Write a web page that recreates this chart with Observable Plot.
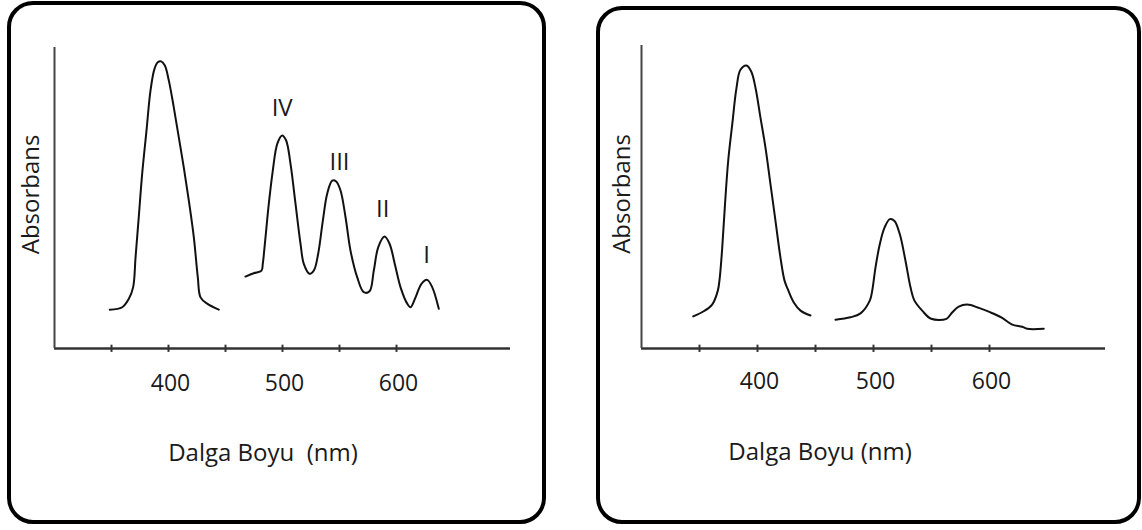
<!DOCTYPE html>
<html>
<head>
<meta charset="utf-8">
<script src="https://cdn.jsdelivr.net/npm/d3@7"></script>
<script src="https://cdn.jsdelivr.net/npm/@observablehq/plot@0.6"></script>
<style>
  html, body { margin: 0; padding: 0; background: #fff; width: 1142px; height: 530px; overflow: hidden; }
  .panel { position: absolute; box-sizing: border-box; border: 4.5px solid #000; border-radius: 26px; }
  .chart { position: absolute; top: 0; }
</style>
</head>
<body>
<div class="panel" style="left:7px;top:1px;width:539px;height:523px"></div>
<div class="panel" style="left:596px;top:6px;width:545px;height:518px"></div>
<div id="left" class="chart" style="left:0px"></div>
<div id="right" class="chart" style="left:571px"></div>
<script>
// ---------- data (wavelength in nm, absorbance in arbitrary units 0-100) ----------
const tickValues = [350, 400, 450, 500, 550, 600];
const tickLabels = [400, 500, 600];
const xTitleLeft = "Dalga Boyu\u00A0 (nm)";
const xTitleRight = "Dalga Boyu (nm)";
const yTitle = "Absorbans";

// Left panel, band near 390 nm
const leftBandANm  = [348.5, 359.4, 365.2, 369.0, 371.1, 373.9, 376.9, 380.7, 384.2, 387.7, 390.6, 393.6, 396.8, 400.3, 404.6, 409.0, 413.4, 417.8, 422.2, 425.7, 428.1, 433.9, 444.1];
const leftBandAAbs = [12.9, 13.7, 16.5, 20.4, 30.3, 43.6, 58.0, 72.4, 85.7, 92.9, 95.1, 95.4, 94.0, 89.0, 80.2, 70.2, 60.2, 49.2, 37.0, 23.7, 17.0, 14.9, 12.9];

// Left panel, vibronic bands I-IV
const leftBandBNm  = [467.5, 474.8, 481.6, 482.7, 485.1, 488.0, 491.5, 495.4, 499.7, 503.2, 507.0, 511.4, 515.8, 518.7, 523.7, 527.5, 531.3, 535.4, 539.2, 543.6, 547.1, 550.9, 555.3, 559.6, 565.5, 571.3, 576.3, 580.1, 584.0, 589.5, 593.9, 598.5, 603.5, 609.4, 612.3, 616.7, 621.9, 626.9, 631.3, 637.1];
const leftBandBAbs = [23.9, 25.0, 25.9, 28.1, 37.0, 48.1, 59.1, 68.0, 70.8, 69.1, 61.4, 48.1, 34.8, 28.1, 24.8, 25.9, 31.5, 42.5, 51.4, 55.8, 55.5, 52.5, 43.6, 32.6, 23.7, 18.7, 19.0, 25.9, 33.7, 37.2, 34.8, 28.1, 20.4, 14.9, 13.7, 17.0, 21.5, 22.8, 20.4, 13.2];

// Peak labels (left panel)
const peakNames  = ["IV", "III", "II", "I"];
const peakLabelNm  = [499.7, 550.0, 588.0, 626.3];
const peakLabelAbs = [79.7, 61.9, 46.1, 30.9];

// Right panel, band near 390 nm
const rightBandANm  = [344.6, 353.7, 360.9, 365.8, 367.5, 369.6, 371.8, 374.7, 378.2, 381.9, 385.3, 390.5, 394.6, 398.3, 402.6, 406.9, 411.2, 415.5, 419.8, 423.3, 426.1, 431.3, 437.1, 445.7];
const rightBandAAbs = [10.6, 12.3, 14.5, 19.1, 23.5, 33.3, 46.5, 61.8, 73.9, 86.0, 92.0, 93.4, 91.4, 86.0, 76.1, 66.2, 54.2, 42.1, 30.0, 22.4, 19.6, 15.2, 12.5, 10.9];

// Right panel, band near 515 nm with shoulder
const rightBandBNm  = [467.2, 480.2, 488.8, 496.8, 498.9, 501.7, 505.4, 509.5, 514.1, 518.1, 522.7, 527.6, 531.9, 535.3, 542.0, 549.7, 562.9, 567.8, 573.5, 580.8, 590.8, 600.9, 610.9, 619.6, 628.2, 632.5, 646.8];
const rightBandBAbs = [9.5, 10.3, 11.6, 15.8, 19.1, 26.7, 34.4, 39.9, 42.7, 42.1, 37.7, 28.9, 20.2, 15.8, 12.5, 9.8, 9.8, 11.9, 13.8, 14.5, 13.4, 11.9, 10.1, 7.9, 7.2, 6.5, 6.5];

// ---------- helpers ----------
const toRows = (xs, ys) => xs.map((x, i) => ({nm: x, abs: ys[i]}));
const FONT = '"Open Sans", "Segoe UI", sans-serif';
const INK = "#1a1a1a";

function panel(opts) {
  const marks = [
    // axes
    Plot.ruleY([0], {x1: 300, x2: 700, stroke: "#333", strokeWidth: 2.4}),
    Plot.ruleX([300], {y1: 0, y2: 100, stroke: "#444", strokeWidth: 2}),
    Plot.ruleX(tickValues, {y1: -1.3, y2: 1.1, stroke: "#333", strokeWidth: 2}),
    Plot.text(tickLabels, {x: d => d, y: opts.tickLabelY, text: d => String(d), fontSize: 23, fill: INK, dx: 2}),
    // curves
    ...opts.bands.map(b => Plot.line(b, {x: "nm", y: "abs", curve: "catmull-rom", stroke: "#111", strokeWidth: 2})),
    // titles
    Plot.text([opts.xTitle], {x: opts.xTitlePos[0], y: opts.xTitlePos[1], text: d => d, fontSize: 24, fill: INK}),
    Plot.text([yTitle], {x: opts.yTitlePos[0], y: opts.yTitlePos[1], text: d => d, rotate: -90, fontSize: 24, fill: INK}),
    ...(opts.extra || [])
  ];
  return Plot.plot({
    width: 571, height: 530, margin: 0,
    x: {domain: [300, 700], range: opts.xRange, axis: null},
    y: {domain: [0, 100], range: opts.yRange, axis: null},
    style: {fontFamily: FONT, background: "transparent", overflow: "visible"},
    marks
  });
}

const peakRows = peakNames.map((n, i) => ({name: n, nm: peakLabelNm[i], abs: peakLabelAbs[i]}));

document.getElementById("left").append(panel({
  xRange: [54, 510], yRange: [348, 47],
  bands: [toRows(leftBandANm, leftBandAAbs), toRows(leftBandBNm, leftBandBAbs)],
  tickLabelY: -11.6,
  xTitle: xTitleLeft, xTitlePos: [482.9, -34.9],
  yTitlePos: [279.8, 51.2],
  extra: [Plot.text(peakRows, {x: "nm", y: "abs", text: "name", fontSize: 24, fill: INK})]
}));

document.getElementById("right").append(panel({
  xRange: [70, 534], yRange: [348, 45],
  bands: [toRows(rightBandANm, rightBandAAbs), toRows(rightBandBNm, rightBandBAbs)],
  tickLabelY: -10.9,
  xTitle: xTitleRight, xTitlePos: [453.9, -34.2],
  yTitlePos: [283.6, 51]
}));
</script>
</body>
</html>
